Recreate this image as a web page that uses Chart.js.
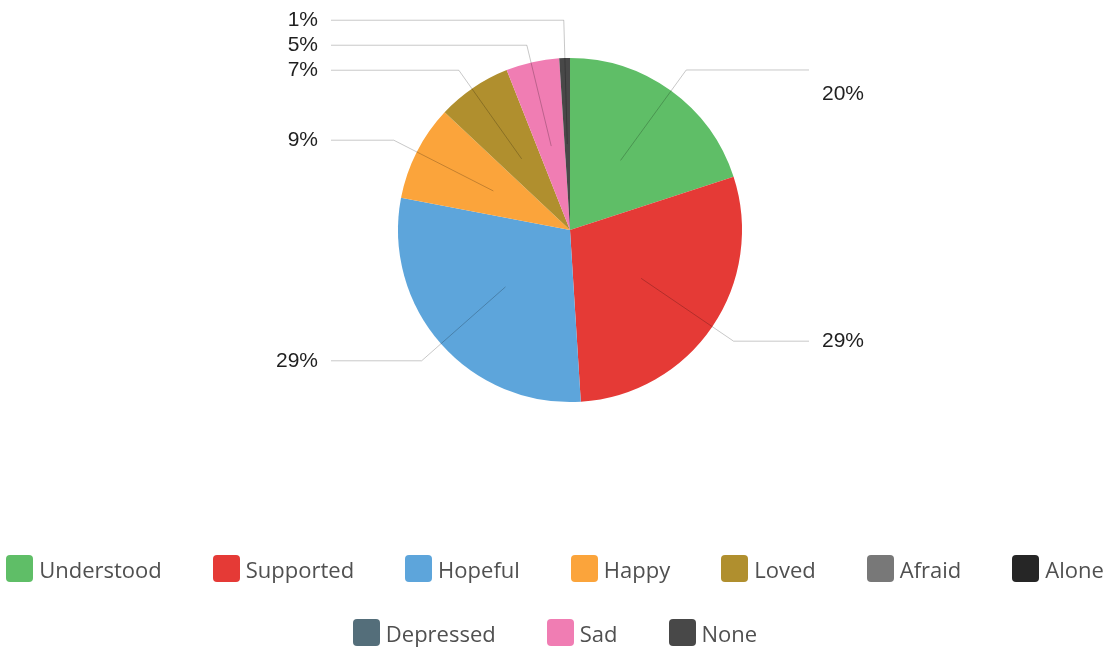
<!DOCTYPE html>
<html>
<head>
<meta charset="utf-8">
<script src="https://cdn.jsdelivr.net/npm/chart.js@4.4.0/dist/chart.umd.min.js"></script>
<style>
  html, body { margin: 0; padding: 0; background: #fff; }
  #wrap { position: relative; width: 1110px; height: 649px; }
  #legend {
    position: absolute; left: 0; right: 0; top: 555px;
    display: flex; flex-wrap: wrap; justify-content: center;
    column-gap: 51px; row-gap: 37px;
    margin: 0; padding: 0; list-style: none;
    font-family: "Open Sans", sans-serif; font-size: 22px; color: #505050;
  }
  #legend li { display: flex; align-items: center; height: 27px; white-space: nowrap; }
  #legend .box { width: 27px; height: 27px; border-radius: 4px; margin-right: 6px; }
</style>
</head>
<body>
<div id="wrap">
  <canvas id="feelings"></canvas>
  <ul id="legend"></ul>
</div>
<script>
const feelings = ['Understood', 'Supported', 'Hopeful', 'Happy', 'Loved', 'Afraid', 'Alone', 'Depressed', 'Sad', 'None'];
const shares = [20, 29, 29, 9, 7, 0, 0, 0, 5, 1];
const sliceColors = ['#5fbe67', '#e53a36', '#5da5db', '#fba43b', '#b08f2e', '#787878', '#262626', '#546e7a', '#f07db3', '#484848'];

// legend as a list under the canvas, built from the chart's own legend items
const htmlLegend = {
  id: 'htmlLegend',
  afterUpdate(chart, args, opts) {
    const ul = document.getElementById(opts.containerID);
    ul.innerHTML = '';
    const items = chart.options.plugins.legend.labels.generateLabels(chart);
    items.forEach(item => {
      const li = document.createElement('li');
      const box = document.createElement('span');
      box.className = 'box';
      box.style.background = item.fillStyle;
      const txt = document.createElement('span');
      txt.textContent = item.text;
      li.appendChild(box);
      li.appendChild(txt);
      ul.appendChild(li);
    });
  }
};

// percentage labels with elbow leader lines
const callouts = {
  id: 'callouts',
  afterDatasetsDraw(chart, args, opts) {
    const ctx = chart.ctx;
    const meta = chart.getDatasetMeta(0);
    const values = chart.data.datasets[0].data;
    const items = [];
    meta.data.forEach((arc, i) => {
      if (!values[i]) return;
      const p = arc.getProps(['x', 'y', 'startAngle', 'endAngle', 'outerRadius'], true);
      const mid = (p.startAngle + p.endAngle) / 2;
      const c = Math.cos(mid), s = Math.sin(mid);
      items.push({
        i, cx: p.x, right: c >= 0,
        sx: p.x + c * p.outerRadius * opts.inner,
        sy: p.y + s * p.outerRadius * opts.inner,
        ex: p.x + c * p.outerRadius * opts.elbow,
        ey: p.y + s * p.outerRadius * opts.elbow
      });
    });

    // spread crowded labels on each side
    [true, false].forEach(side => {
      const list = items.filter(it => it.right === side).sort((a, b) => a.ey - b.ey);
      for (let pass = 0; pass < 60; pass++) {
        for (let k = 1; k < list.length; k++) {
          const gap = list[k].ey - list[k - 1].ey;
          if (gap < opts.minGap) {
            const d = (opts.minGap - gap) / 2;
            list[k].ey += d;
            list[k - 1].ey -= d;
          }
        }
      }
    });

    ctx.save();
    ctx.lineWidth = 1;
    ctx.strokeStyle = opts.lineColor;
    ctx.font = opts.font;
    ctx.fillStyle = opts.color;
    ctx.textBaseline = 'middle';
    items.forEach(it => {
      const endX = it.cx + (it.right ? opts.reach : -opts.reach);
      ctx.beginPath();
      ctx.moveTo(it.sx, it.sy);
      ctx.lineTo(it.ex, it.ey);
      ctx.lineTo(endX, it.ey);
      ctx.stroke();
      ctx.textAlign = it.right ? 'left' : 'right';
      const tx = endX + (it.right ? opts.gap : -opts.gap);
      ctx.fillText(values[it.i] + '%', tx, it.ey + (opts.textShift[it.i] || 0));
    });
    ctx.restore();
  }
};

new Chart(document.getElementById('feelings'), {
  type: 'pie',
  data: {
    labels: feelings,
    datasets: [{
      data: shares,
      backgroundColor: sliceColors,
      borderWidth: 0
    }]
  },
  options: {
    responsive: true,
    maintainAspectRatio: false,
    animation: false,
    events: [],
    layout: { padding: { top: 58, bottom: 247, left: 30, right: 0 } },
    plugins: {
      legend: { display: false },
      tooltip: { enabled: false },
      htmlLegend: { containerID: 'legend' },
      callouts: {
        inner: 0.5,
        elbow: 1.15,
        reach: 239,
        gap: 13,
        minGap: 25,
        lineColor: 'rgba(0,0,0,0.22)',
        font: '21px "Liberation Sans", Arial, sans-serif',
        color: '#1f1f1f',
        textShift: { 0: 24 }
      }
    }
  },
  plugins: [htmlLegend, callouts]
});
</script>
</body>
</html>
